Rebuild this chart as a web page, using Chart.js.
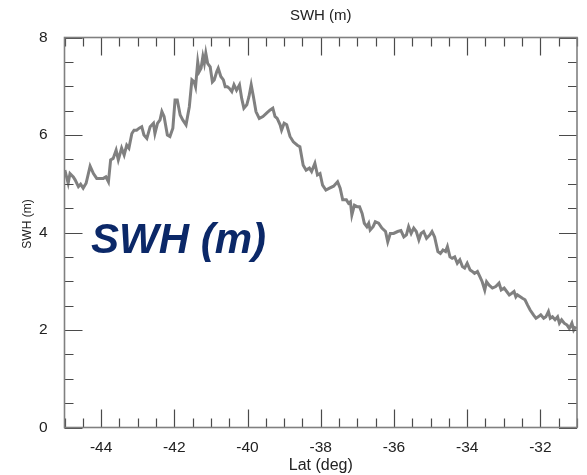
<!DOCTYPE html>
<html>
<head>
<meta charset="utf-8">
<script src="https://cdn.jsdelivr.net/npm/chart.js@4/dist/chart.umd.min.js"></script>
<style>
  html, body { margin: 0; padding: 0; background: #ffffff; }
  #wrap { width: 587px; height: 475px; }
</style>
</head>
<body>
<div id="wrap"><canvas id="c" width="587" height="475"></canvas></div>
<script>
// Latitude (deg) along the track
const lats = [
  -44.99, -44.90, -44.85, -44.76, -44.71, -44.62, -44.56, -44.49, -44.41, -44.30,
  -44.21, -44.12, -43.94, -43.87, -43.80, -43.74, -43.67, -43.59, -43.53, -43.44,
  -43.37, -43.30, -43.24, -43.16, -43.10, -43.03, -42.96, -42.89, -42.83, -42.75,
  -42.66, -42.57, -42.53, -42.46, -42.39, -42.34, -42.28, -42.19, -42.12, -42.04,
  -41.98, -41.92, -41.84, -41.77, -41.68, -41.59, -41.52, -41.46, -41.42, -41.36,
  -41.32, -41.27, -41.22, -41.18, -41.14, -41.09, -41.02, -40.96, -40.91, -40.84,
  -40.80, -40.73, -40.66, -40.61, -40.55, -40.50, -40.43, -40.37, -40.30, -40.22,
  -40.16, -40.10, -40.02, -39.96, -39.90, -39.84, -39.77, -39.68, -39.58, -39.48,
  -39.39, -39.31, -39.25, -39.19, -39.11, -39.07, -39.00, -38.93, -38.84, -38.75,
  -38.64, -38.57, -38.48, -38.40, -38.31, -38.25, -38.16, -38.09, -38.02, -37.95,
  -37.86, -37.76, -37.65, -37.54, -37.47, -37.40, -37.30, -37.24, -37.19, -37.15,
  -37.08, -37.01, -36.94, -36.87, -36.81, -36.74, -36.69, -36.65, -36.57, -36.51,
  -36.42, -36.33, -36.23, -36.17, -36.10, -36.01, -35.90, -35.81, -35.73, -35.66,
  -35.60, -35.53, -35.46, -35.39, -35.32, -35.26, -35.19, -35.11, -35.02, -34.96,
  -34.89, -34.80, -34.73, -34.66, -34.59, -34.54, -34.47, -34.41, -34.34, -34.27,
  -34.20, -34.13, -34.07, -34.00, -33.92, -33.86, -33.80, -33.72, -33.65, -33.59,
  -33.52, -33.47, -33.40, -33.31, -33.22, -33.13, -33.07, -32.99, -32.92, -32.85,
  -32.79, -32.72, -32.67, -32.63, -32.55, -32.49, -32.42, -32.35, -32.28, -32.19,
  -32.12, -32.06, -31.99, -31.91, -31.85, -31.78, -31.73, -31.67, -31.60, -31.53,
  -31.48, -31.42, -31.35, -31.27, -31.21, -31.14, -31.09, -31.03
];

// Significant wave height (m)
const swh = [
  5.28, 5.01, 5.21, 5.14, 5.08, 4.94, 4.99, 4.91, 5.01, 5.36,
  5.21, 5.11, 5.11, 5.14, 5.04, 5.49, 5.52, 5.69, 5.49, 5.73,
  5.59, 5.79, 5.73, 6.03, 6.10, 6.10, 6.14, 6.17, 6.00, 5.93,
  6.17, 6.24, 6.03, 6.24, 6.31, 6.48, 6.38, 6.00, 5.97, 6.14,
  6.72, 6.72, 6.41, 6.31, 6.21, 6.58, 7.13, 7.09, 6.99, 7.50,
  7.30, 7.37, 7.61, 7.47, 7.68, 7.47, 7.40, 7.09, 7.13, 7.30,
  7.37, 7.20, 7.13, 6.99, 6.99, 6.96, 6.89, 7.03, 6.92, 7.03,
  6.75, 6.55, 6.62, 6.79, 7.03, 6.79, 6.48, 6.34, 6.38, 6.45,
  6.51, 6.55, 6.38, 6.34, 6.21, 6.10, 6.24, 6.21, 5.97, 5.86,
  5.79, 5.76, 5.38, 5.28, 5.32, 5.25, 5.42, 5.18, 5.21, 4.97,
  4.87, 4.91, 4.95, 5.04, 4.91, 4.67, 4.67, 4.60, 4.63, 4.36,
  4.56, 4.53, 4.53, 4.39, 4.19, 4.12, 4.19, 4.05, 4.12, 4.22,
  4.19, 4.09, 4.02, 3.81, 3.98, 3.98, 4.02, 4.04, 3.91, 3.95,
  4.12, 3.98, 4.09, 4.02, 3.85, 3.98, 4.02, 3.88, 3.95, 4.02,
  3.91, 3.61, 3.57, 3.64, 3.61, 3.71, 3.50, 3.47, 3.50, 3.37,
  3.44, 3.30, 3.27, 3.37, 3.23, 3.20, 3.16, 3.20, 3.09, 2.99,
  2.82, 2.99, 2.92, 2.86, 2.89, 2.96, 2.82, 2.86, 2.79, 2.72,
  2.75, 2.79, 2.68, 2.72, 2.68, 2.65, 2.62, 2.51, 2.41, 2.31,
  2.24, 2.27, 2.31, 2.24, 2.27, 2.38, 2.24, 2.27, 2.21, 2.27,
  2.14, 2.21, 2.14, 2.10, 2.03, 2.14, 2.00, 2.07
];

// Axis ranges and tick spacing
const xRange = [-45, -31];
const yRange = [0, 8];
const minorStep = 0.5;
const majorStep = 2;

const FONT = '"Liberation Sans", Arial, Helvetica, sans-serif';
const isMajor = v => Math.abs(v % majorStep) < 1e-6;

// Box frame, inward tick marks on all four sides, and the text labels
const framePlugin = {
  id: 'frame',
  afterDraw(chart) {
    const { ctx, chartArea: a, scales } = chart;
    ctx.save();
    // inward ticks
    ctx.strokeStyle = '#4a4a4a';
    ctx.lineWidth = 1.2;
    ctx.beginPath();
    scales.x.ticks.forEach(t => {
      const px = Math.round(scales.x.getPixelForValue(t.value)) + 0.5;
      const len = isMajor(t.value) ? 18 : 9;
      ctx.moveTo(px, a.bottom); ctx.lineTo(px, a.bottom - len);
      ctx.moveTo(px, a.top); ctx.lineTo(px, a.top + len);
    });
    scales.y.ticks.forEach(t => {
      const py = Math.round(scales.y.getPixelForValue(t.value)) + 0.5;
      const len = isMajor(t.value) ? 18 : 9;
      ctx.moveTo(a.left, py); ctx.lineTo(a.left + len, py);
      ctx.moveTo(a.right, py); ctx.lineTo(a.right - len, py);
    });
    ctx.stroke();
    // frame
    ctx.strokeStyle = '#808080';
    ctx.lineWidth = 1.6;
    ctx.strokeRect(a.left, a.top, a.right - a.left, a.bottom - a.top);

    // titles
    ctx.fillStyle = '#222222';
    ctx.textAlign = 'center';
    ctx.textBaseline = 'middle';
    ctx.font = '15px ' + FONT;
    ctx.fillText('SWH (m)', (a.left + a.right) / 2, 16);
    ctx.font = '16px ' + FONT;
    ctx.fillText('Lat (deg)', (a.left + a.right) / 2, 466);
    ctx.save();
    ctx.translate(28, 224);
    ctx.rotate(-Math.PI / 2);
    ctx.font = '12px ' + FONT;
    ctx.fillText('SWH (m)', 0, 0);
    ctx.restore();

    // large in-plot caption
    ctx.fillStyle = '#0b2868';
    ctx.textAlign = 'left';
    ctx.textBaseline = 'alphabetic';
    ctx.font = 'italic bold 42px ' + FONT;
    ctx.fillText('SWH (m)', 91, 253);
    ctx.restore();
  }
};

new Chart(document.getElementById('c'), {
  type: 'scatter',
  data: {
    datasets: [{
      data: lats.map((x, i) => ({ x: x, y: swh[i] })),
      showLine: true,
      borderColor: '#808080',
      borderWidth: 3,
      pointRadius: 0,
      tension: 0,
      fill: false
    }]
  },
  options: {
    responsive: false,
    animation: false,
    layout: { padding: { top: 37.5, right: 10, left: 0, bottom: 0 } },
    plugins: { legend: { display: false }, tooltip: { enabled: false } },
    scales: {
      x: {
        type: 'linear',
        min: xRange[0], max: xRange[1],
        grid: { display: false },
        border: { display: false },
        ticks: {
          stepSize: minorStep, autoSkip: false, maxRotation: 0,
          padding: 3, color: '#222222',
          font: { family: FONT, size: 15.5 },
          callback: v => isMajor(v) ? String(v) : ''
        },
        afterFit(s) { s.height = 47.5; }
      },
      y: {
        type: 'linear',
        min: yRange[0], max: yRange[1],
        grid: { display: false },
        border: { display: false },
        ticks: {
          stepSize: minorStep, autoSkip: false,
          padding: 9, color: '#222222',
          font: { family: FONT, size: 15.5 },
          callback: v => isMajor(v) ? String(v) : ''
        },
        afterFit(s) { s.width = 64.5; }
      }
    }
  },
  plugins: [framePlugin]
});
</script>
</body>
</html>
